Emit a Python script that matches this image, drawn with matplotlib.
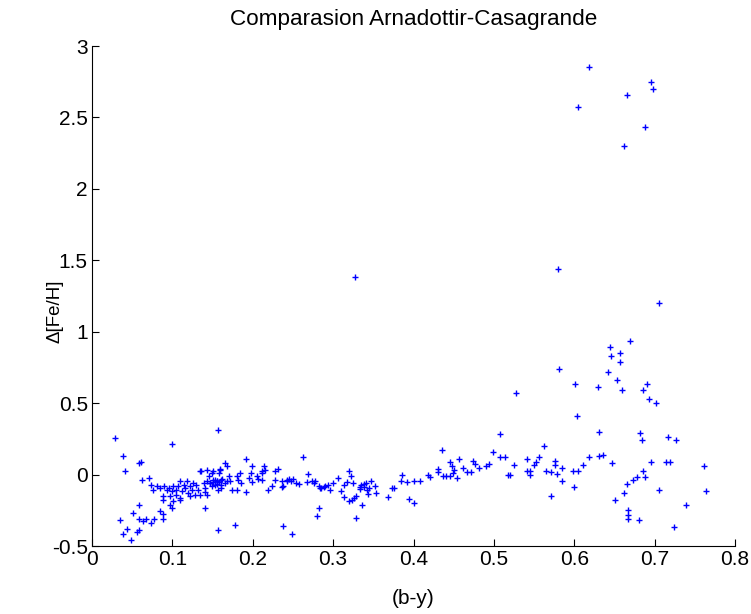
import numpy as np
import matplotlib
matplotlib.use("Agg")
import matplotlib.pyplot as plt

# blue stars, (b-y) < 0.2
by_blue = [
    0.029, 0.099, 0.039, 0.041, 0.058, 0.061, 0.062,
    0.071, 0.073, 0.076, 0.081, 0.085, 0.090, 0.093, 0.096, 0.099, 0.101,
    0.105, 0.107, 0.110, 0.112, 0.114, 0.116, 0.118, 0.120, 0.122, 0.124,
    0.126, 0.128, 0.130, 0.132, 0.134, 0.139, 0.141, 0.143, 0.145, 0.147,
    0.149, 0.151, 0.153, 0.155, 0.158, 0.143, 0.110, 0.097, 0.105, 0.122,
    0.134, 0.101,
    0.035, 0.058, 0.051, 0.059, 0.064, 0.067, 0.073, 0.077, 0.085, 0.088,
    0.088, 0.097, 0.100, 0.088, 0.088, 0.109, 0.141, 0.044, 0.039, 0.049,
    0.056, 0.058, 0.157, 0.157,
    0.135, 0.143, 0.151, 0.159, 0.165, 0.141, 0.157,
    0.147, 0.150, 0.153, 0.155, 0.158, 0.160, 0.162, 0.149, 0.165, 0.168,
    0.168, 0.159, 0.155, 0.161, 0.161, 0.170, 0.172, 0.174, 0.180, 0.182,
    0.184, 0.186, 0.181, 0.192, 0.195, 0.198, 0.199, 0.192, 0.178, 0.199,
]
dfe_blue = [
    0.254, 0.215, 0.133, 0.028, 0.082, 0.089, -0.040,
    -0.026, -0.072, -0.105, -0.077, -0.093, -0.082, -0.105, -0.093, -0.117, -0.082,
    -0.105, -0.082, -0.047, -0.117, -0.070, -0.093, -0.047, -0.128, -0.082, -0.105,
    -0.058, -0.140, -0.070, -0.105, 0.023, -0.058, -0.093, -0.047, -0.012, -0.058,
    0.012, -0.035, -0.070, -0.047, 0.012, -0.140, -0.163, -0.152, -0.140, -0.152,
    -0.140, -0.187,
    -0.320, -0.210, -0.268, -0.310, -0.326, -0.310, -0.338, -0.308, -0.256, -0.273,
    -0.310, -0.210, -0.233, -0.175, -0.150, -0.175, -0.233, -0.380, -0.413, -0.455,
    -0.403, -0.390, -0.385, 0.315,
    0.028, 0.035, 0.028, 0.042, 0.082, -0.121, -0.105,
    -0.060, -0.050, -0.040, -0.065, -0.050, -0.075, -0.030, -0.080, -0.060, -0.045,
    0.058, 0.035, -0.047, -0.035, -0.093, -0.012, -0.047, -0.105, -0.012, -0.035,
    0.012, -0.058, -0.105, -0.124, -0.023, 0.012, -0.049, 0.110, -0.352, 0.058,
]

# intermediate stars, 0.2 < (b-y) < 0.48
by_mid = [
    0.205, 0.207, 0.211, 0.212, 0.214, 0.215, 0.219, 0.224, 0.228, 0.232,
    0.236, 0.238, 0.242, 0.245, 0.248, 0.250, 0.254, 0.263, 0.269, 0.267,
    0.274, 0.276, 0.282, 0.285, 0.290, 0.294, 0.296, 0.300, 0.306, 0.282,
    0.280, 0.238, 0.249,
    0.211, 0.228, 0.236, 0.243, 0.257, 0.277, 0.284, 0.289,
    0.320, 0.322, 0.317, 0.313, 0.310, 0.313, 0.320, 0.323, 0.326, 0.329,
    0.325, 0.328, 0.336, 0.333, 0.335, 0.338, 0.341, 0.333, 0.338, 0.342,
    0.344, 0.347, 0.345, 0.352, 0.353, 0.368, 0.373, 0.376, 0.384, 0.386,
    0.392, 0.395, 0.401, 0.401, 0.408, 0.418, 0.420, 0.430, 0.430, 0.437,
    0.441, 0.445, 0.445, 0.448, 0.451, 0.449, 0.454, 0.457, 0.462, 0.466,
    0.471, 0.474, 0.476, 0.435, 0.327,
]
dfe_mid = [
    -0.012, -0.028, 0.012, -0.035, 0.063, 0.035, -0.105, -0.082, -0.035, 0.040,
    -0.047, -0.082, -0.042, -0.032, -0.047, -0.032, -0.058, 0.121, 0.007, -0.054,
    -0.047, -0.058, -0.082, -0.096, -0.082, -0.070, -0.105, -0.058, -0.026, -0.233,
    -0.291, -0.361, -0.415,
    0.023, 0.028, -0.086, -0.035, -0.063, -0.042, -0.091, -0.089,
    0.028, -0.007, -0.054, -0.072, -0.117, -0.156, -0.184, -0.175, -0.166, -0.149,
    -0.058, -0.301, -0.210, -0.086, -0.070, -0.063, -0.058, -0.100, -0.089, -0.105,
    -0.135, -0.044, -0.096, -0.077, -0.131, -0.159, -0.096, -0.096, -0.044, -0.005,
    -0.054, -0.168, -0.200, -0.044, -0.044, -0.002, -0.016, 0.037, 0.016, -0.007,
    -0.007, -0.007, 0.086, 0.058, 0.035, 0.012, -0.026, 0.110, 0.049, 0.016,
    0.021, 0.096, 0.077, 0.170, 1.385,
]

# red stars, (b-y) > 0.48
by_red = [
    0.481, 0.490, 0.494, 0.499, 0.508, 0.514, 0.508, 0.518, 0.520, 0.525,
    0.541, 0.541, 0.545, 0.545, 0.550, 0.552, 0.556, 0.562, 0.565, 0.571,
    0.571, 0.576, 0.576, 0.578, 0.585, 0.585, 0.598, 0.600, 0.605, 0.611,
    0.618, 0.631, 0.636, 0.647, 0.528, 0.581, 0.601, 0.603, 0.629, 0.631,
    0.580,
    0.706, 0.669, 0.644, 0.646, 0.657, 0.657, 0.642, 0.653, 0.660, 0.691,
    0.686, 0.693, 0.702, 0.682, 0.684, 0.717, 0.727, 0.695, 0.714, 0.719,
    0.762, 0.686, 0.688, 0.678, 0.673, 0.666, 0.706, 0.764, 0.662, 0.651,
    0.739, 0.667, 0.667, 0.667, 0.680, 0.724,
    0.618, 0.605, 0.666, 0.695, 0.698, 0.688, 0.662,
]
dfe_red = [
    0.047, 0.058, 0.077, 0.156, 0.121, 0.121, 0.284, -0.002, -0.002, 0.070,
    0.110, 0.028, 0.028, -0.002, 0.070, 0.089, 0.121, 0.203, 0.028, 0.016,
    -0.147, 0.098, 0.070, 0.007, 0.047, -0.044, 0.028, -0.086, 0.028, 0.068,
    0.121, 0.133, 0.140, 0.079, 0.571, 0.736, 0.634, 0.408, 0.613, 0.296,
    1.436,
    1.200, 0.932, 0.890, 0.830, 0.851, 0.790, 0.718, 0.664, 0.594, 0.634,
    0.594, 0.531, 0.501, 0.294, 0.243, 0.266, 0.243, 0.091, 0.091, 0.091,
    0.058, 0.028, -0.014, -0.014, -0.035, -0.065, -0.105, -0.114, -0.126, -0.177,
    -0.210, -0.250, -0.280, -0.310, -0.320, -0.364,
    2.850, 2.575, 2.660, 2.750, 2.700, 2.430, 2.300,
]

plt.rcParams["font.family"] = ["Liberation Sans", "DejaVu Sans"]

fig = plt.figure(figsize=(7.51, 6.14), dpi=100)
ax = fig.add_axes([0.1225, 0.1107, 0.8562, 0.8143])

by = np.array(by_blue + by_mid + by_red)
dfe = np.array(dfe_blue + dfe_mid + dfe_red)
ax.plot(by, dfe, "+", color="#0000ff", ms=4, mew=1.0)

ax.set_xlim(0, 0.8)
ax.set_ylim(-0.5, 3)
ax.set_xticks(np.arange(0, 0.81, 0.1))
ax.set_xticklabels(["0", "0.1", "0.2", "0.3", "0.4", "0.5", "0.6", "0.7", "0.8"])
ax.set_yticks(np.arange(-0.5, 3.01, 0.5))
ax.set_yticklabels(["-0.5", "0", "0.5", "1", "1.5", "2", "2.5", "3"])
ax.tick_params(direction="in", length=5, labelsize=15, width=0.8, pad=3)
for s in ("top", "right"):
    ax.spines[s].set_visible(False)

ax.set_title("Comparasion Arnadottir-Casagrande", fontsize=16.2, y=1.042, pad=0)
ax.set_xlabel("(b-y)", fontsize=15)
ax.set_ylabel("Δ[Fe/H]", fontsize=13.5)
ax.xaxis.set_label_coords(0.5, -0.085)
ax.yaxis.set_label_coords(-0.045, 0.47)

fig.savefig("out.png", dpi=100)
